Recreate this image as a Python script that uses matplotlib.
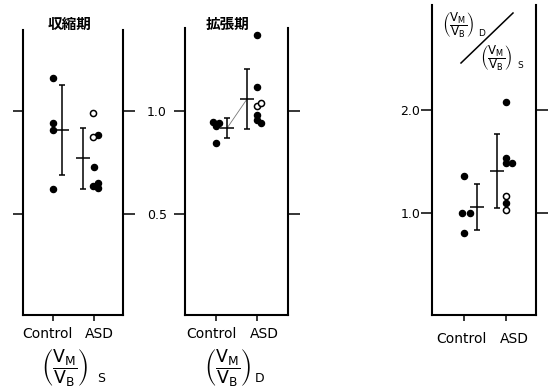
import matplotlib
matplotlib.use('Agg')
import matplotlib.pyplot as plt
from matplotlib.transforms import blended_transform_factory
from matplotlib.lines import Line2D

plt.rcParams['font.family'] = ['DejaVu Sans']
plt.rcParams['mathtext.fontset'] = 'dejavusans'

categories = ['Control', 'ASD']

# Panel 1: systolic (VM/VB)_S
sys_ctrl = [1.16, 0.94, 0.91, 0.62]
sys_asd_filled = [0.883, 0.728, 0.636, 0.650, 0.626]
sys_asd_open = [0.99, 0.874]
sys_mean = [0.907, 0.770]
sys_sd = [0.220, 0.148]

# Panel 2: diastolic (VM/VB)_D
dia_ctrl = [0.948, 0.927, 0.943, 0.845]
dia_asd_filled = [1.37, 1.118, 0.981, 0.956, 0.943]
dia_asd_open = [1.024, 1.040]
dia_mean = [0.917, 1.058]
dia_sd = [0.049, 0.146]

# Panel 3: ratio (VM/VB)_D / (VM/VB)_S
rat_ctrl = [1.359, 1.003, 1.003, 0.803]
rat_asd_filled = [2.081, 1.537, 1.488, 1.488, 1.100]
rat_asd_open = [1.165, 1.029]
rat_mean = [1.055, 1.408]
rat_sd = [0.223, 0.358]

ticks_12 = [0.5, 1.0]
tick_labels_12 = ['0.5', '1.0']
ticks_3 = [1.0, 2.0]
tick_labels_3 = ['1.0', '2.0']

titles = ['収縮期', '拡張期']

W, H = 554, 388
fig = plt.figure(figsize=(W / 100, H / 100), dpi=100)
fig.patch.set_facecolor('white')


def axes_px(x0, y0, x1, y1):
    return fig.add_axes([x0 / W, 1 - y1 / H, (x1 - x0) / W, (y1 - y0) / H])


def fx(x):
    return x / W


def fy(y):
    return 1 - y / H


def style_axes(ax, xlim, ylim, yticks, ylabels, left_len, right_len,
               show_labels, label_pad):
    ax.set_xlim(*xlim)
    ax.set_ylim(*ylim)
    ax.set_facecolor('none')
    ax.spines['top'].set_visible(False)
    for s in ['left', 'right', 'bottom']:
        ax.spines[s].set_linewidth(1.5)
    ax.set_xticks([0, 1])
    ax.set_xticklabels([])
    ax.tick_params(axis='x', direction='out', length=4, width=1.1,
                   bottom=True, top=False)
    ax.set_yticks(yticks)
    ax.set_yticklabels(ylabels if show_labels else [])
    ax.tick_params(axis='y', direction='out', left=True, right=True,
                   width=1.1, length=left_len, labelleft=show_labels,
                   labelsize=9, pad=label_pad)
    for t in ax.yaxis.get_major_ticks():
        t.tick1line.set_markersize(left_len)
        t.tick2line.set_markersize(right_len)


def draw_points(ax, ctrl, ctrl_dx, filled, filled_dx, opened, open_dx):
    ax.plot([0 + d for d in ctrl_dx], ctrl, 'o', color='black', ms=4.4,
            ls='none', clip_on=False)
    ax.plot([1 + d for d in filled_dx], filled, 'o', color='black', ms=4.4,
            ls='none', clip_on=False)
    ax.plot([1 + d for d in open_dx], opened, 'o', mfc='white', mec='black',
            mew=1.1, ms=4.4, ls='none', clip_on=False)


def draw_stats(ax, xpos, mean, sd):
    ax.errorbar(xpos, mean, yerr=sd, fmt='none', ecolor='black',
                elinewidth=1.1, capsize=1.9, capthick=1.1)
    ax.plot(xpos, mean, ls='none', marker='_', ms=9.5, mew=1.1,
            color='black')


def cat_labels(ax, dxs, dy):
    trans = blended_transform_factory(ax.transData, ax.transAxes)
    for i, (cat, dx) in enumerate(zip(categories, dxs)):
        ax.annotate(cat, xy=(i, 0), xycoords=trans, xytext=(dx, -dy),
                    textcoords='offset points', ha='center', va='center',
                    fontsize=10)


# ---- Panel 1 ----
ax1 = axes_px(23, 30, 123, 315)
style_axes(ax1, (-0.73, 1.71), (0.0097, 1.393), ticks_12, tick_labels_12,
           7.2, 8.6, False, 2)
draw_points(ax1, sys_ctrl, [0, 0, 0, 0], sys_asd_filled,
            [0.09, 0, -0.03, 0.09, 0.09], sys_asd_open, [-0.03, -0.03])
draw_stats(ax1, [0.23, 0.73], sys_mean, sys_sd)
cat_labels(ax1, [-3.6, 4.3], 13.7)

# ---- Panel 2 ----
ax2 = axes_px(185, 28, 288, 315)
style_axes(ax2, (-0.756, 1.756), (0.0097, 1.403), ticks_12, tick_labels_12,
           8.0, 8.6, True, 5)
dia_x = [0.27, 0.756]
ax2.plot(dia_x, dia_mean, color='#777777', lw=0.6)
draw_points(ax2, dia_ctrl, [-0.08, 0, 0.08, 0], dia_asd_filled,
            [0, 0, 0, 0, 0.09], dia_asd_open, [0, 0.1])
draw_stats(ax2, dia_x, dia_mean, dia_sd)
cat_labels(ax2, [-3.6, 5.0], 13.7)

# ---- Panel 3 ----
ax3 = axes_px(432, 5, 536, 315)
style_axes(ax3, (-0.76, 1.71), (0.0097, 3.019), ticks_3, tick_labels_3,
           8.0, 8.6, True, 0.3)
draw_points(ax3, rat_ctrl, [0, -0.05, 0.14, 0], rat_asd_filled,
            [0, 0, 0, 0.13, 0], rat_asd_open, [0, 0])
draw_stats(ax3, [0.31, 0.78], rat_mean, rat_sd)
cat_labels(ax3, [-1.8, 5.8], 17.3)

# ---- Titles ----
for title, xc in zip(titles, [70, 228]):
    fig.text(fx(xc), fy(24), title, ha='center', va='center', fontsize=10.5,
             fontweight='bold', family=['Noto Sans CJK JP', 'DejaVu Sans'])

# ---- Fraction labels ----
frac = r'$\left(\dfrac{\mathrm{V_M}}{\mathrm{V_B}}\right)$'
for xc, sub, xs in [(65, 'S', 101), (228, 'D', 260)]:
    fig.text(fx(xc), fy(368), frac, ha='center', va='center', fontsize=12.5)
    fig.text(fx(xs), fy(379), sub, ha='center', va='center', fontsize=9)

# Panel 3 annotation
fig.text(fx(458), fy(25), frac, ha='center', va='center', fontsize=8.5)
fig.text(fx(482), fy(33), 'D', ha='center', va='center', fontsize=6.5)
fig.text(fx(496), fy(58), frac, ha='center', va='center', fontsize=8.5)
fig.text(fx(520), fy(65), 'S', ha='center', va='center', fontsize=6.5)
fig.add_artist(Line2D([fx(461), fx(513)], [fy(63), fy(13)], color='black',
                      lw=1.1, transform=fig.transFigure))

fig.savefig('out.png', dpi=100, facecolor='white')
